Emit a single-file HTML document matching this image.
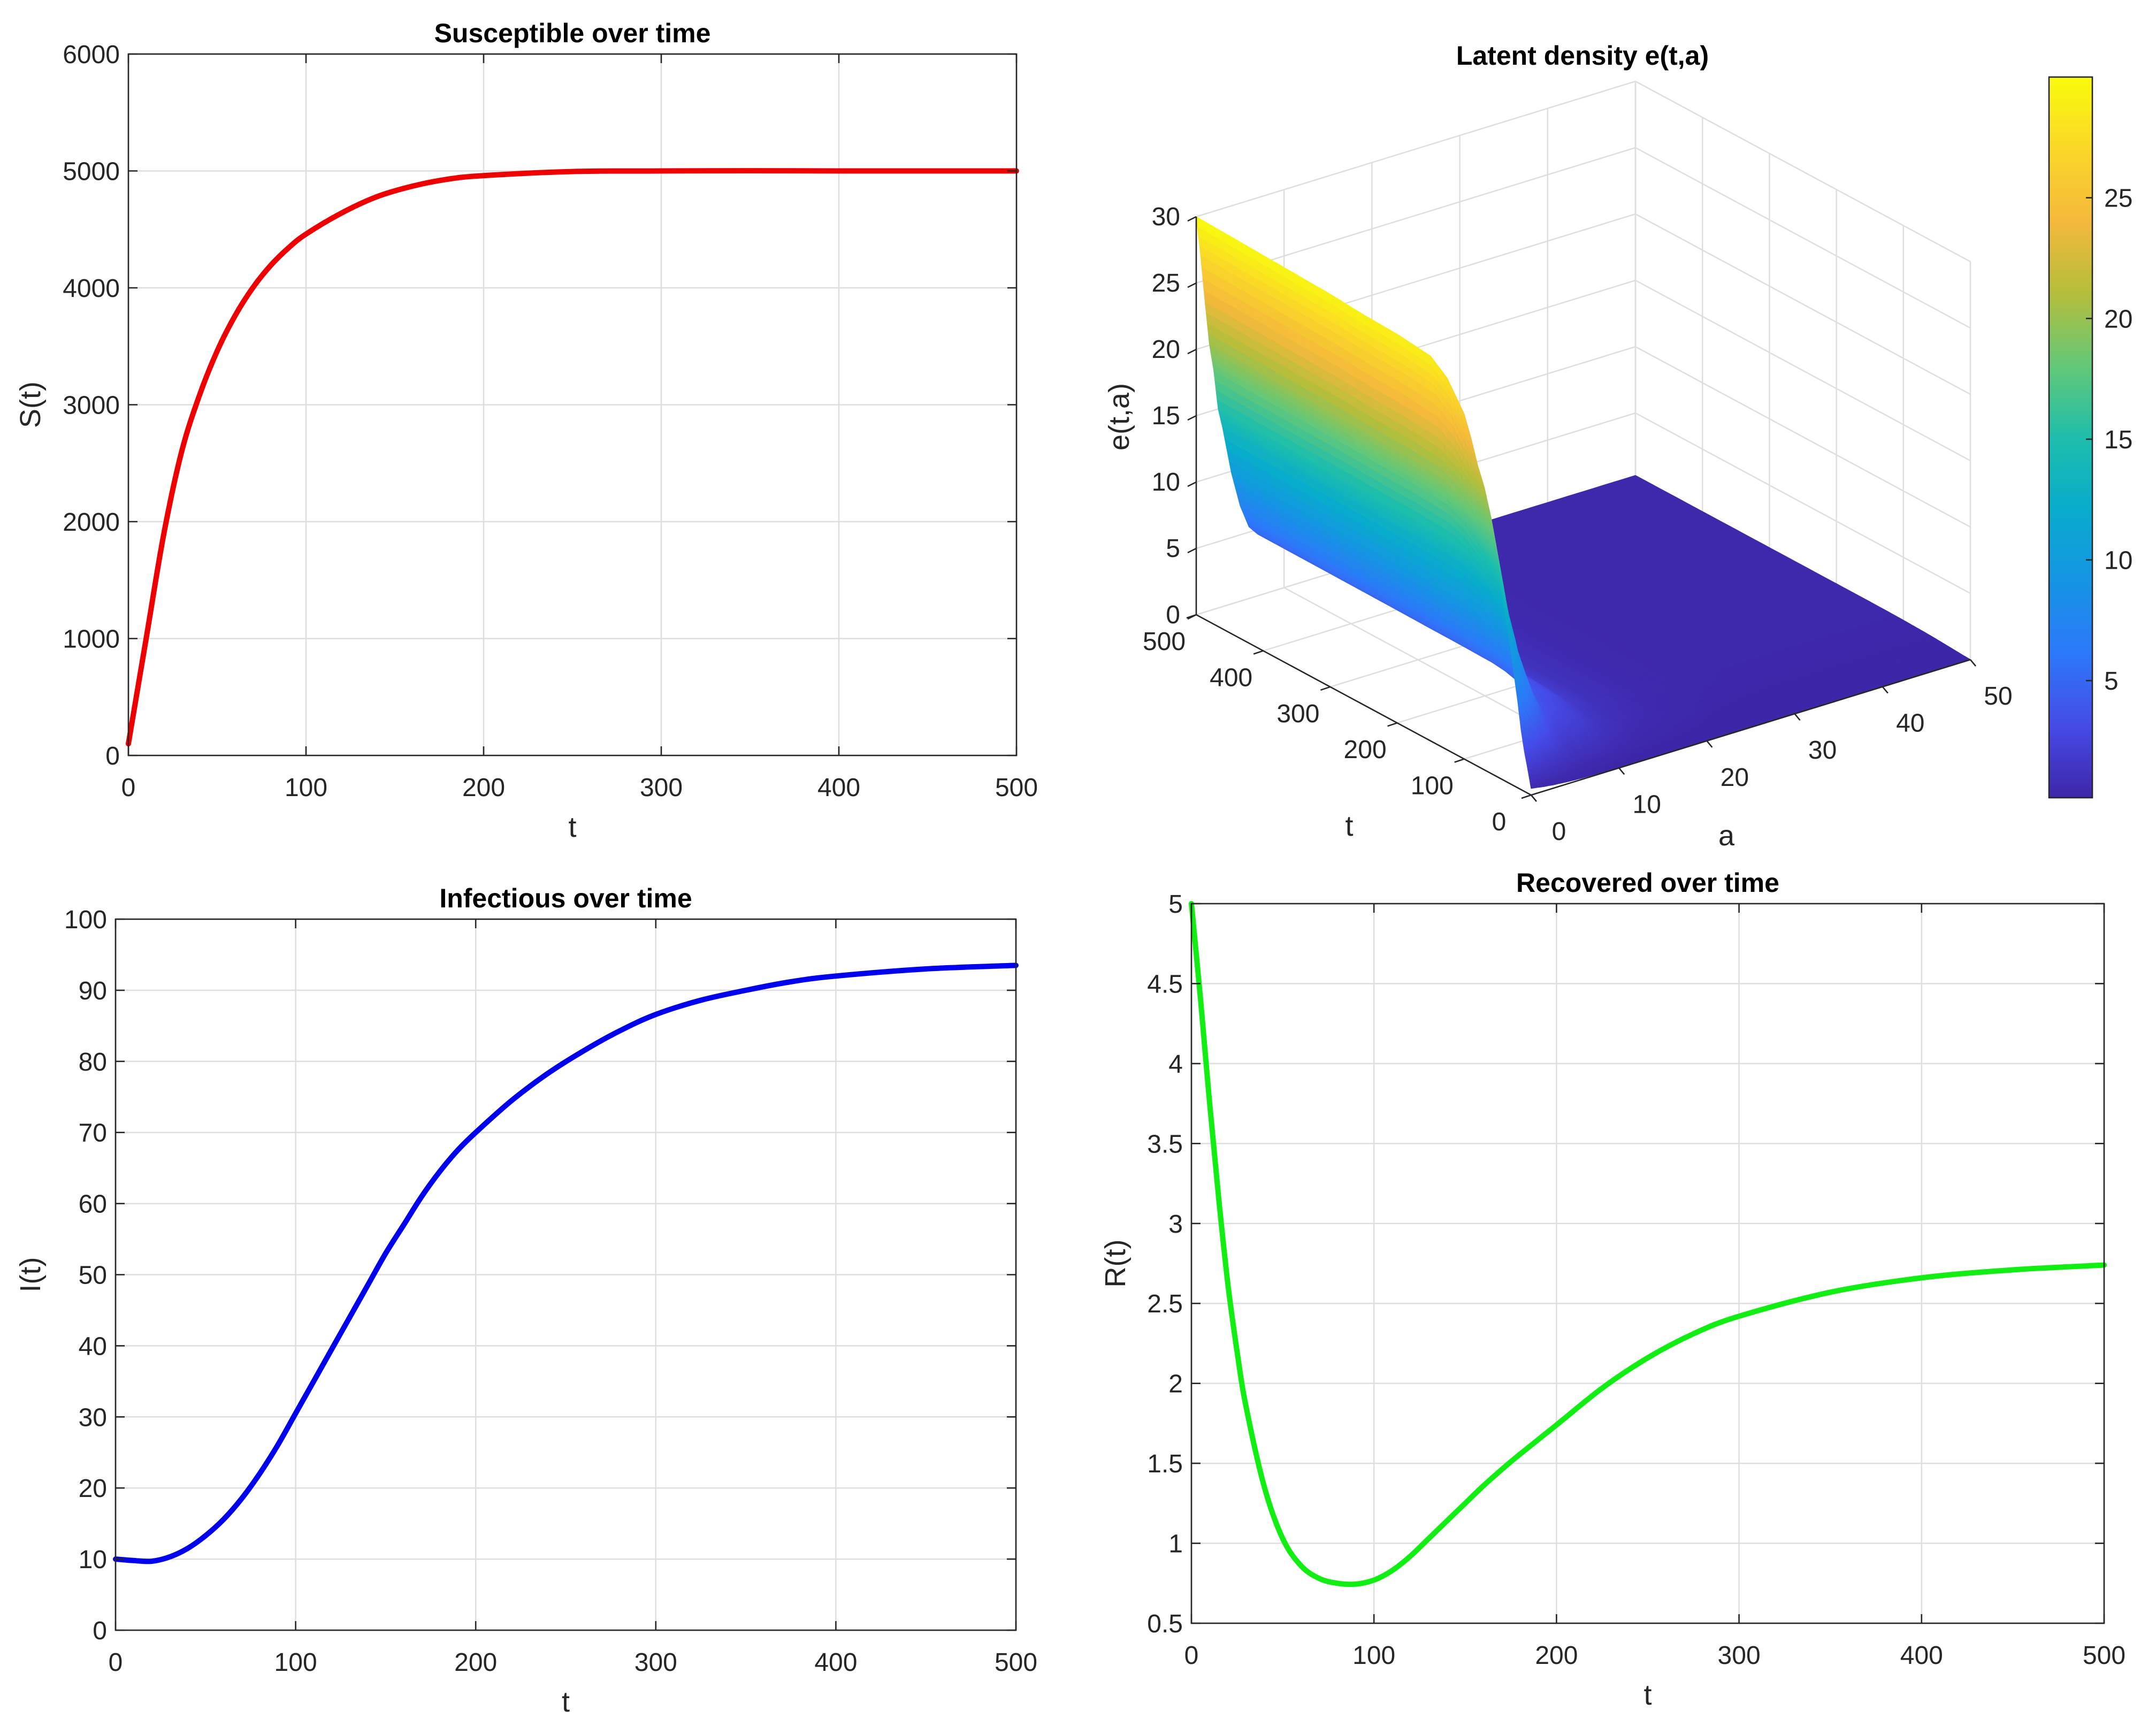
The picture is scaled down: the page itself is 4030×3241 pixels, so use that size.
<!DOCTYPE html>
<html><head><meta charset="utf-8">
<style>
html,body{margin:0;padding:0;background:#fff;}
svg{display:block;font-family:"Liberation Sans",Arial,sans-serif;}
</style></head>
<body>
<svg id="fig" xmlns="http://www.w3.org/2000/svg" width="4030" height="3241" viewBox="0 0 4030 3241">
<rect x="0" y="0" width="4030" height="3241" fill="#fff"/>
</svg>
<script>
// ---------- data ----------
const sT = [0,10,20,30,40,50,60,70,80,90,100,120,140,160,180,200,250,300,350,400,450,500];
const sVals = [100,1000,1900,2600,3080,3460,3760,4000,4190,4340,4460,4640,4780,4870,4930,4960,4995,5000,5002,5000,5000,5000];
const iT = [0,10,20,30,40,50,60,70,80,90,100,110,120,130,140,150,160,170,180,190,200,220,240,260,280,300,325,350,375,400,450,500];
const iVals = [10,9.8,9.7,10.3,11.5,13.3,15.6,18.5,22,26,30.5,35,39.5,44,48.5,53,57,61,64.5,67.5,70,74.5,78.3,81.5,84.3,86.6,88.6,90,91.2,92,93,93.5];
const rT = [0,5,10,15,20,25,30,40,50,60,70,80,90,100,110,120,130,140,150,160,175,200,225,250,275,300,350,400,450,500];
const rVals = [5,4.4,3.75,3.15,2.62,2.2,1.85,1.35,1.03,0.86,0.78,0.75,0.745,0.77,0.83,0.92,1.03,1.14,1.25,1.36,1.51,1.74,1.97,2.16,2.31,2.42,2.57,2.66,2.71,2.74];
const xTicks = [0,100,200,300,400,500];
const sTicks = [0,1000,2000,3000,4000,5000,6000];
const iTicks = [0,10,20,30,40,50,60,70,80,90,100];
const rTicks = [0.5,1,1.5,2,2.5,3,3.5,4,4.5,5];
const rTickLabels = ['0.5','1','1.5','2','2.5','3','3.5','4','4.5','5'];
// surface: e(t,a) = eBoundary(t) * aProfile(a)
const tNodes = [0,5,10,15,20,30,40,50,60,70,80,90,100,125,150,200,250,300,350,400,450,500];
const eBoundary = [0.5,1.8,3,4.5,6.5,10,13,16.5,19.3,21.3,22.7,24.5,26,28,29,29.3,29.4,29.6,29.7,29.8,29.9,30];
const aNodes = [0,0.5,1,1.5,2,2.5,3,4,5,6,7,8,10,12,15,20,25,30,35,40,45,50];
const aProfile = [1,0.9,0.78,0.67,0.6,0.5,0.45,0.33,0.24,0.18,0.155,0.14,0.11,0.07,0.04,0.02,0.012,0.01,0.01,0.01,0.01,0.01];
const zTicks = [0,5,10,15,20,25,30];
const tTicks3 = [0,100,200,300,400,500];
const aTicks3 = [0,10,20,30,40,50];
const cbTicks = [5,10,15,20,25];

const NS = 'http://www.w3.org/2000/svg';
const svg = document.getElementById('fig');
function el(tag, attrs, parent, text){
  const e = document.createElementNS(NS, tag);
  for (const k in attrs) e.setAttribute(k, attrs[k]);
  if (text !== undefined) e.textContent = text;
  (parent || svg).appendChild(e);
  return e;
}
const AX = '#262626', GRID = '#dedede', TXT = '#262626';

function smoothPath(p){
  let d = 'M' + p[0][0].toFixed(1) + ',' + p[0][1].toFixed(1);
  for (let i=0;i<p.length-1;i++){
    const p0 = p[Math.max(0,i-1)], p1 = p[i], p2 = p[i+1], p3 = p[Math.min(p.length-1,i+2)];
    const c1 = [p1[0] + (p2[0]-p0[0])/6, p1[1] + (p2[1]-p0[1])/6];
    const c2 = [p2[0] - (p3[0]-p1[0])/6, p2[1] - (p3[1]-p1[1])/6];
    d += ' C' + c1.map(v=>v.toFixed(1)).join(',') + ' ' + c2.map(v=>v.toFixed(1)).join(',') + ' ' + p2.map(v=>v.toFixed(1)).join(',');
  }
  return d;
}

function plot2d(o){
  const g = el('g', {});
  
  
  const X = v => o.x0 + (v - o.xmin) / (o.xmax - o.xmin) * (o.x1 - o.x0);
  const Y = v => o.y1 - (v - o.ymin) / (o.ymax - o.ymin) * (o.y1 - o.y0);
  o.xticks.forEach(v => {
    const l = el('line', {x1:X(v), x2:X(v), y1:o.y0, y2:o.y1, stroke:GRID, 'stroke-width':2.5}, g);
    
    
  });
  o.yticks.forEach(v => {
    const l = el('line', {x1:o.x0, x2:o.x1, y1:Y(v), y2:Y(v), stroke:GRID, 'stroke-width':2.5}, g);
    
    
  });
  const pts = o.xs.map((t,i) => [X(t), Y(o.ys[i])]);
  const pl = el('path', {d:smoothPath(pts), fill:'none', stroke:o.color, 'stroke-width':10, 'stroke-linejoin':'round', 'stroke-linecap':'round'}, g);
  
  
  const bx = el('rect', {x:o.x0, y:o.y0, width:o.x1-o.x0, height:o.y1-o.y0, fill:'none', stroke:AX, 'stroke-width':2.6}, g);
  
  
  const tl = 17;
  o.xticks.forEach((v,i) => {
    el('line', {x1:X(v), x2:X(v), y1:o.y1, y2:o.y1-tl, stroke:AX, 'stroke-width':2.6}, g);
    el('line', {x1:X(v), x2:X(v), y1:o.y0, y2:o.y0+tl, stroke:AX, 'stroke-width':2.6}, g);
    const t = el('text', {x:X(v), y:o.y1+76, 'font-size':48, 'text-anchor':'middle', fill:TXT}, g, String(v));
    
    
  });
  o.yticks.forEach((v,i) => {
    el('line', {x1:o.x0, x2:o.x0+tl, y1:Y(v), y2:Y(v), stroke:AX, 'stroke-width':2.6}, g);
    el('line', {x1:o.x1, x2:o.x1-tl, y1:Y(v), y2:Y(v), stroke:AX, 'stroke-width':2.6}, g);
    const t = el('text', {x:o.x0-16, y:Y(v)+17, 'font-size':48, 'text-anchor':'end', fill:TXT}, g, o.ylabels ? o.ylabels[i] : String(v));
    
    
  });
  const tt = el('text', {x:(o.x0+o.x1)/2, y:o.y0-22, 'font-size':50, 'font-weight':'bold', 'text-anchor':'middle', fill:'#000'}, g, o.title);
  
  
  const xl = el('text', {x:(o.x0+o.x1)/2, y:o.y1+152, 'font-size':54, 'text-anchor':'middle', fill:TXT}, g, 't');
  
  
  const yc = (o.y0+o.y1)/2;
  const yl = el('text', {x:o.ylx, y:yc, 'font-size':54, 'text-anchor':'middle', fill:TXT, transform:'rotate(-90 '+o.ylx+' '+yc+')'}, g, o.ylabel);
  
  
}

plot2d({name:'susceptible-panel', series:'susceptible-line', x0:240, x1:1900, y0:101, y1:1412, xmin:0, xmax:500, ymin:0, ymax:6000,
  xticks:xTicks, yticks:sTicks, xs:sT, ys:sVals, color:'#ee0000', title:'Susceptible over time', ylabel:'S(t)', ylx:75});
plot2d({name:'infectious-panel', series:'infectious-line', x0:216, x1:1899, y0:1718, y1:3047, xmin:0, xmax:500, ymin:0, ymax:100,
  xticks:xTicks, yticks:iTicks, xs:iT, ys:iVals, color:'#0000ee', title:'Infectious over time', ylabel:'I(t)', ylx:75});
plot2d({name:'recovered-panel', series:'recovered-line', x0:2227, x1:3933, y0:1689, y1:3034, xmin:0, xmax:500, ymin:0.5, ymax:5,
  xticks:xTicks, yticks:rTicks, ylabels:rTickLabels, xs:rT, ys:rVals, color:'#11ee11', title:'Recovered over time', ylabel:'R(t)', ylx:2103});

// ---------- 3D surface ----------
const g3 = el('g', {});


const O = [2862,1486], Tv = [-1.252,-0.674], Av = [16.42,-5.06], Zs = 24.8;
const P = (t,a,z) => [O[0] + t*Tv[0] + a*Av[0], O[1] + t*Tv[1] + a*Av[1] - z*Zs];
const ps = p => p[0].toFixed(1)+','+p[1].toFixed(1);
function gl(p1,p2,color,w,name){
  const l = el('line', {x1:p1[0], y1:p1[1], x2:p2[0], y2:p2[1], stroke:color, 'stroke-width':w}, g3);
  
  
  return l;
}
zTicks.forEach(z => { gl(P(500,0,z), P(500,50,z), GRID, 2.5, 'back-wall-gridline'); gl(P(500,50,z), P(0,50,z), GRID, 2.5, 'side-wall-gridline'); });
aTicks3.forEach(a => { gl(P(500,a,0), P(500,a,30), GRID, 2.5, 'back-wall-gridline'); gl(P(500,a,0), P(0,a,0), GRID, 2.5, 'floor-gridline'); });
tTicks3.forEach(t => { gl(P(t,50,0), P(t,50,30), GRID, 2.5, 'side-wall-gridline'); gl(P(t,0,0), P(t,50,0), GRID, 2.5, 'floor-gridline'); });

const parula = [[62,38,168],[70,75,232],[45,120,250],[22,148,228],[8,172,204],[30,190,172],[100,200,120],[180,190,60],[245,185,60],[250,215,40],[249,251,14]];
const CMIN = 0.15, CMAX = 30;
function cmap(v){
  let f = (v - CMIN)/(CMAX - CMIN); f = Math.max(0, Math.min(1, f));
  const s = f*(parula.length-1), i = Math.min(parula.length-2, Math.floor(s)), r = s - i;
  const c = parula[i].map((c0,k) => Math.round(c0 + (parula[i+1][k]-c0)*r));
  return 'rgb('+c.join(',')+')';
}
const quads = [];
const SUB = 4;
for (let i=0;i<tNodes.length-1;i++){
  for (let j=0;j<aNodes.length-1;j++){
    const t0=tNodes[i], t1=tNodes[i+1], a0=aNodes[j], a1=aNodes[j+1];
    const z00=eBoundary[i]*aProfile[j], z10=eBoundary[i+1]*aProfile[j], z01=eBoundary[i]*aProfile[j+1], z11=eBoundary[i+1]*aProfile[j+1];
    const bil = (u,w) => z00*(1-u)*(1-w) + z10*u*(1-w) + z01*(1-u)*w + z11*u*w;
    for (let su=0; su<SUB; su++){
      for (let sw=0; sw<SUB; sw++){
        const u0=su/SUB, u1=(su+1)/SUB, w0=sw/SUB, w1=(sw+1)/SUB;
        const T = u => t0 + (t1-t0)*u, A = w => a0 + (a1-a0)*w;
        const depth = P(T((u0+u1)/2), A((w0+w1)/2), 0)[1];
        quads.push({depth, pts:[P(T(u0),A(w0),bil(u0,w0)),P(T(u1),A(w0),bil(u1,w0)),P(T(u1),A(w1),bil(u1,w1)),P(T(u0),A(w1),bil(u0,w1))], v:bil((u0+u1)/2,(w0+w1)/2)});
      }
    }
  }
}
quads.sort((q1,q2) => q1.depth - q2.depth);
const surf = el('g', {}, g3);


quads.forEach(q => {
  const c = cmap(q.v);
  const p = el('polygon', {points:q.pts.map(ps).join(' '), fill:c, stroke:c, 'stroke-width':1.2, 'stroke-linejoin':'round'}, surf);
  
  
});
gl(P(500,0,0), P(500,0,30), AX, 2.6, 'z-axis-line');
gl(P(0,0,0), P(500,0,0), AX, 2.6, 't-axis-line');
gl(P(0,0,0), P(0,50,0), AX, 2.6, 'a-axis-line');
zTicks.forEach(z => {
  const p = P(500,0,z);
  gl(p, [p[0]-16, p[1]+8], AX, 2.6, 'z-tick');
  const t = el('text', {x:p[0]-30, y:p[1]+16, 'font-size':48, 'text-anchor':'end', fill:TXT}, g3, String(z));
  
  
});
tTicks3.forEach(tv => {
  const p = P(tv,0,0);
  gl(p, [p[0]-18, p[1]+6], AX, 2.6, 't-tick');
  const t = el('text', {x:p[0]-60, y:p[1]+66, 'font-size':48, 'text-anchor':'middle', fill:TXT}, g3, String(tv));
  
  
});
aTicks3.forEach(av => {
  const p = P(0,av,0);
  gl(p, [p[0]+10, p[1]+12], AX, 2.6, 'a-tick');
  const t = el('text', {x:p[0]+52, y:p[1]+84, 'font-size':48, 'text-anchor':'middle', fill:TXT}, g3, String(av));
  
  
});
let tx = el('text', {x:2958, y:121, 'font-size':50, 'font-weight':'bold', 'text-anchor':'middle', fill:'#000'}, g3, 'Latent density e(t,a)');


tx = el('text', {x:2522, y:1562, 'font-size':54, 'text-anchor':'middle', fill:TXT}, g3, 't');


tx = el('text', {x:3227, y:1580, 'font-size':54, 'text-anchor':'middle', fill:TXT}, g3, 'a');


tx = el('text', {x:2110, y:779, 'font-size':54, 'text-anchor':'middle', fill:TXT, transform:'rotate(-90 2110 779)'}, g3, 'e(t,a)');



// colorbar
const cb = el('g', {});


const CBX0 = 3830, CBX1 = 3911, CBY0 = 144, CBY1 = 1491;
const defs = el('defs', {}, cb);
const lg = el('linearGradient', {id:'parulaGrad', x1:0, y1:1, x2:0, y2:0}, defs);
parula.forEach((c,i) => el('stop', {offset:(i/(parula.length-1)), 'stop-color':'rgb('+c.join(',')+')'}, lg));
const cbr = el('rect', {x:CBX0, y:CBY0, width:CBX1-CBX0, height:CBY1-CBY0, fill:'url(#parulaGrad)', stroke:AX, 'stroke-width':2.6}, cb);


const CY = v => CBY1 - (v - CMIN)/(CMAX - CMIN)*(CBY1 - CBY0);
cbTicks.forEach(v => {
  el('line', {x1:CBX1, x2:CBX1-12, y1:CY(v), y2:CY(v), stroke:AX, 'stroke-width':2.6}, cb);
  const t = el('text', {x:CBX1+22, y:CY(v)+17, 'font-size':48, fill:TXT}, cb, String(v));
  
  
});
</script>
</body></html>
